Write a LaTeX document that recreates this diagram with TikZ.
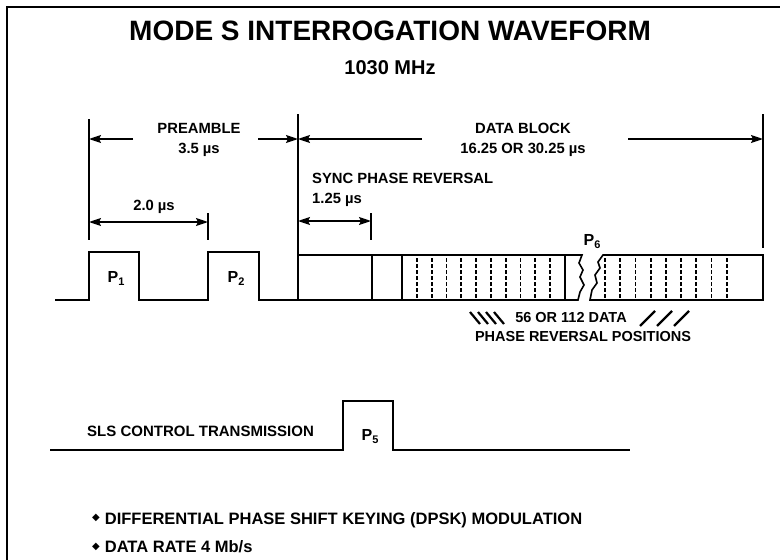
\documentclass[tikz,border=0pt]{standalone}
\usepackage{fontspec}
\setmainfont{Liberation Sans}
\newfontfamily\dingfont{DejaVu Sans}
\usetikzlibrary{arrows.meta, positioning, calc}
\newcommand{\pulse}[1]{P\raisebox{-3pt}{\fontsize{11}{11}\selectfont #1}}
\tikzset{
  wave/.style={line width=1.6pt, line join=miter},
  extline/.style={line width=1.4pt},
  dimarrow/.style={line width=1.6pt, -{Stealth[length=12pt,width=8pt,inset=2pt]}},
  dimboth/.style={line width=1.6pt, {Stealth[length=12pt,width=8pt,inset=2pt]}-{Stealth[length=12pt,width=8pt,inset=2pt]}},
  lbl/.style={font=\fontsize{14.8}{20}\selectfont\bfseries, inner sep=0pt, align=center},
  plbl/.style={font=\fontsize{16}{18}\selectfont\bfseries, inner sep=0pt},
  slot/.style={line width=1.8pt, dash pattern=on 3.5pt off 2.5pt},
  hatch/.style={line width=2.2pt},
  bullet/.style={font=\fontsize{16.5}{18}\selectfont\bfseries, inner sep=0pt, anchor=west}
}

\begin{document}
\begin{tikzpicture}[x=1pt, y=-1pt]
    \useasboundingbox (0,0) rectangle (780,560);
    \draw[line width=2.5pt] (7,560) -- (7,7) -- (780,7);
    \node[font=\fontsize{28}{30}\selectfont\bfseries] (title) at (390,31) {MODE S INTERROGATION WAVEFORM};
    \node[font=\fontsize{20}{22}\selectfont\bfseries] (freq) at (390,68) {1030 MHz};

    \coordinate (p1a) at (89,119);  \coordinate (p1b) at (89,240);
    \coordinate (p2a) at (208,213); \coordinate (p2b) at (208,240);
    \coordinate (dba) at (298,114); \coordinate (dbb) at (298,300);
    \coordinate (sya) at (371,213); \coordinate (syb) at (371,240);
    \coordinate (dea) at (763,114); \coordinate (deb) at (763,248);
    \draw[extline] (p1a) -- (p1b);
    \draw[extline] (p2a) -- (p2b);
    \draw[wave] (dba) -- (dbb);
    \draw[extline] (sya) -- (syb);
    \draw[extline] (dea) -- (deb);

    \node[lbl] (preamble) at (199,140) {PREAMBLE\\3.5 µs};
    \node[lbl] (datablock) at (523,140) {DATA BLOCK\\16.25 OR 30.25 µs};
    \node[lbl, align=left, anchor=west] (sync) at (312,190) {SYNC PHASE REVERSAL\\1.25 µs};
    \node[lbl] (two) at (154,207) {2.0 µs};
    \coordinate (prl) at (133,139); \coordinate (prr) at (258,139);
    \coordinate (dbl) at (422,139); \coordinate (dbr) at (628,139);
    \draw[dimarrow] (prl) -- (p1a |- prl);
    \draw[dimarrow] (prr) -- (dba |- prr);
    \draw[dimarrow] (dbl) -- (dba |- dbl);
    \draw[dimarrow] (dbr) -- (dea |- dbr);
    \draw[dimboth] (89,222) -- (208,222);
    \draw[dimboth] (298,221) -- (371,221);

    \draw[wave] (55,300) -- (89,300) -- (89,252) -- (139,252) -- (139,300)
      -- (208,300) -- (208,252) -- (259,252) -- (259,300) -- (298,300);
    \draw[wave] (298,255) -- (582,255) -- (579,263) -- (583,270) -- (580,277)
      -- (584,285) -- (580,292) -- (578,300) -- (298,300);
    \draw[wave] (603,255) -- (763,255) -- (763,300) -- (590,300) -- (592,290)
      -- (597,283) -- (595,275) -- (600,268) -- (598,262) -- cycle;
    \foreach \x in {372, 402, 565}
      \draw[wave] (\x,255) -- (\x,300);
    \foreach \i in {1,...,10}
      \draw[slot] ({402+\i*14.8},258) -- ({402+\i*14.8},298);
    \foreach \i in {0,...,8}
      \draw[slot] ({605+\i*15.2},258) -- ({605+\i*15.2},298);

    \node[plbl] (pone) at (116,278) {\pulse{1}};
    \node[plbl] (ptwo) at (236,278) {\pulse{2}};
    \node[plbl] (psix) at (592,242) {\pulse{6}};

    \node[lbl, font=\fontsize{14.5}{19}\selectfont\bfseries] (datapos) at (571,318) {56 OR 112 DATA};
    \node[lbl, font=\fontsize{14.5}{19}\selectfont\bfseries] (positions) at (583,337) {PHASE REVERSAL POSITIONS};
    \foreach \x in {470,478,486,494}
      \draw[hatch] (\x,312) -- (\x+10,324);
    \foreach \x in {640,657,674}
      \draw[hatch] (\x,326) -- (\x+15,311);

    \node[lbl, anchor=west, font=\fontsize{15}{17}\selectfont\bfseries] (sls) at (87,431) {SLS CONTROL TRANSMISSION};
    \draw[wave] (50,450) -- (343,450) -- (343,401) -- (393,401) -- (393,450) -- (630,450);
    \node[plbl] (pfive) at (370,437) {\pulse{5}};

    \node[bullet] (dpsk) at (92,520) {\raisebox{3.5pt}{\dingfont\fontsize{10}{10}\selectfont ◆}\hspace{5pt}DIFFERENTIAL PHASE SHIFT KEYING (DPSK) MODULATION};
    \node[bullet] (rate) at (92,547) {\raisebox{3.5pt}{\dingfont\fontsize{10}{10}\selectfont ◆}\hspace{5pt}DATA RATE 4 Mb/s};
\end{tikzpicture}
\end{document}
